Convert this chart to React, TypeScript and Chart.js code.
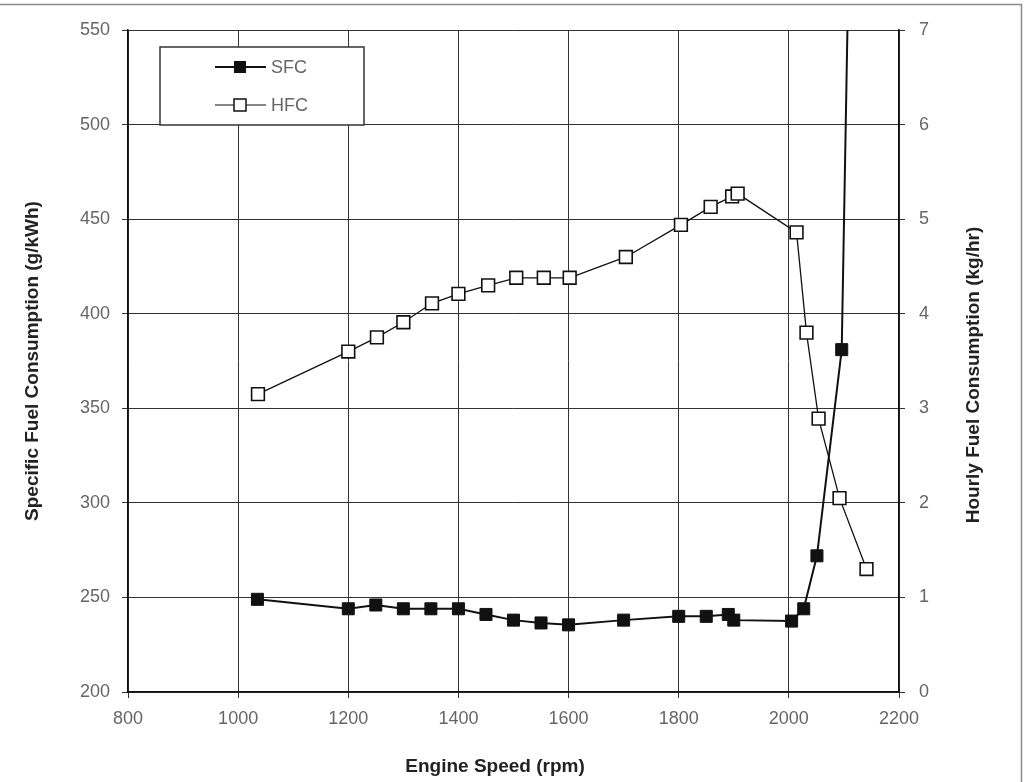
import React, { useEffect, useRef } from "react";
import { Chart, registerables } from "chart.js";

Chart.register(...registerables);

const sfcRpm = [1035, 1200, 1250, 1300, 1350, 1400, 1450, 1500, 1550, 1600, 1700, 1800, 1850, 1890, 1900, 2005, 2027, 2051, 2096, 2110];
const sfcValues = [249, 244, 246, 244, 244, 244, 241, 238, 236.5, 235.5, 238, 240, 240, 241, 238, 237.5, 244, 272, 381, 610];

const hfcRpm = [1036, 1200, 1252, 1300, 1352, 1400, 1454, 1505, 1555, 1602, 1704, 1804, 1858, 1897, 1907, 2014, 2032, 2054, 2092, 2141];
const hfcValues = [3.15, 3.6, 3.75, 3.91, 4.11, 4.21, 4.3, 4.38, 4.38, 4.38, 4.6, 4.94, 5.13, 5.24, 5.27, 4.86, 3.8, 2.89, 2.05, 1.3];

const xTicks = [800, 1000, 1200, 1400, 1600, 1800, 2000, 2200];
const leftTicks = [200, 250, 300, 350, 400, 450, 500, 550];
const rightTicks = [0, 1, 2, 3, 4, 5, 6, 7];

const xTitle = "Engine Speed (rpm)";
const leftTitle = "Specific Fuel Consumption (g/kWh)";
const rightTitle = "Hourly Fuel Consumption (kg/hr)";

const FONT = "'Liberation Sans', Arial, sans-serif";

const legendPlugin = {
  id: "boxLegend",
  afterDraw(chart: any) {
    const ctx = chart.ctx;
    const area = chart.chartArea;
    ctx.save();
    // outer figure border (top + right)
    ctx.strokeStyle = "#888";
    ctx.lineWidth = 1.5;
    ctx.beginPath();
    ctx.moveTo(0, 4.5);
    ctx.lineTo(1021.5, 4.5);
    ctx.lineTo(1021.5, 782);
    ctx.stroke();

    // titles drawn as text
    ctx.fillStyle = "#222";
    ctx.font = `bold 19px ${FONT}`;
    ctx.textAlign = "center";
    ctx.textBaseline = "middle";
    ctx.fillText(xTitle, area.left + (area.right - area.left) * 0.476, 767);

    ctx.save();
    ctx.translate(974, (area.top + area.bottom) / 2 + 14);
    ctx.rotate(-Math.PI / 2);
    ctx.fillText(rightTitle, 0, 0);
    ctx.restore();

    ctx.save();
    ctx.translate(33, (area.top + area.bottom) / 2);
    ctx.rotate(-Math.PI / 2);
    ctx.fillText(leftTitle, 0, 0);
    ctx.restore();

    // legend box
    const bx = 160, by = 47, bw = 204, bh = 78;
    ctx.fillStyle = "#fff";
    ctx.fillRect(bx, by, bw, bh);
    ctx.strokeStyle = "#333";
    ctx.lineWidth = 1.5;
    ctx.strokeRect(bx, by, bw, bh);

    const items = [
      { label: "SFC", y: 67, filled: true, lw: 2 },
      { label: "HFC", y: 105, filled: false, lw: 1.2 },
    ];
    items.forEach((it) => {
      ctx.strokeStyle = "#111";
      ctx.lineWidth = it.lw;
      ctx.beginPath();
      ctx.moveTo(215, it.y);
      ctx.lineTo(266, it.y);
      ctx.stroke();
      const s = 12;
      if (it.filled) {
        ctx.fillStyle = "#111";
        ctx.fillRect(240 - s / 2, it.y - s / 2, s, s);
      } else {
        ctx.fillStyle = "#fff";
        ctx.fillRect(240 - s / 2, it.y - s / 2, s, s);
        ctx.lineWidth = 1.5;
        ctx.strokeRect(240 - s / 2, it.y - s / 2, s, s);
      }
      ctx.fillStyle = "#666";
      ctx.font = `18px ${FONT}`;
      ctx.textAlign = "left";
      ctx.textBaseline = "middle";
      ctx.fillText(it.label, 271, it.y + 1);
    });
    ctx.restore();
  },
};

export default function App() {
  const canvasRef = useRef<HTMLCanvasElement | null>(null);

  useEffect(() => {
    document.body.style.margin = "0";
    const canvas = canvasRef.current;
    if (!canvas) return;
    const tickFont = { family: FONT, size: 18 };
    const chart = new Chart(canvas, {
      type: "line",
      data: {
        datasets: [
          {
            label: "SFC",
            data: sfcRpm.map((x, i) => ({ x, y: sfcValues[i] })),
            yAxisID: "y",
            borderColor: "#111",
            borderWidth: 2,
            pointStyle: "rect",
            pointRadius: 8.5,
            pointBackgroundColor: "#111",
            pointBorderColor: "#111",
            pointBorderWidth: 1,
            tension: 0,
          },
          {
            label: "HFC",
            data: hfcRpm.map((x, i) => ({ x, y: hfcValues[i] })),
            yAxisID: "y1",
            borderColor: "#111",
            borderWidth: 1.3,
            pointStyle: "rect",
            pointRadius: 9,
            pointBackgroundColor: "#fff",
            pointBorderColor: "#111",
            pointBorderWidth: 1.6,
            tension: 0,
          },
        ],
      },
      options: {
        responsive: false,
        animation: false,
        devicePixelRatio: 1,
        layout: { padding: { top: 30, left: 0, right: 0, bottom: 0 } },
        plugins: {
          legend: { display: false },
          tooltip: { enabled: false },
          title: { display: false },
        },
        scales: {
          x: {
            type: "linear",
            min: 800,
            max: 2200,
            afterBuildTicks: (s: any) => {
              s.ticks = xTicks.map((v) => ({ value: v }));
            },
            afterFit: (s: any) => {
              s.height = 90;
            },
            ticks: {
              color: "#666",
              font: tickFont,
              padding: 10,
              maxRotation: 0,
              callback: (v: any) => String(v),
            },
            grid: { color: "#333", lineWidth: 1, tickLength: 6, drawTicks: true },
            border: { color: "#111", width: 1.5 },
          },
          y: {
            type: "linear",
            position: "left",
            min: 200,
            max: 550,
            afterBuildTicks: (s: any) => {
              s.ticks = leftTicks.map((v) => ({ value: v }));
            },
            afterFit: (s: any) => {
              s.width = 128;
            },
            ticks: {
              color: "#666",
              font: tickFont,
              padding: 12,
              callback: (v: any) => String(v),
            },
            grid: { color: "#333", lineWidth: 1, tickLength: 6 },
            border: { color: "#111", width: 1.5 },
          },
          y1: {
            type: "linear",
            position: "right",
            min: 0,
            max: 7,
            afterBuildTicks: (s: any) => {
              s.ticks = rightTicks.map((v) => ({ value: v }));
            },
            afterFit: (s: any) => {
              s.width = 130;
            },
            ticks: {
              color: "#666",
              font: tickFont,
              padding: 14,
              callback: (v: any) => String(v),
            },
            grid: { drawOnChartArea: false, color: "#333", tickLength: 6 },
            border: { color: "#111", width: 1.5 },
          },
        },
      },
      plugins: [legendPlugin],
    });
    return () => chart.destroy();
  }, []);

  return <canvas ref={canvasRef} width={1029} height={782} style={{ display: "block" }} />;
}
